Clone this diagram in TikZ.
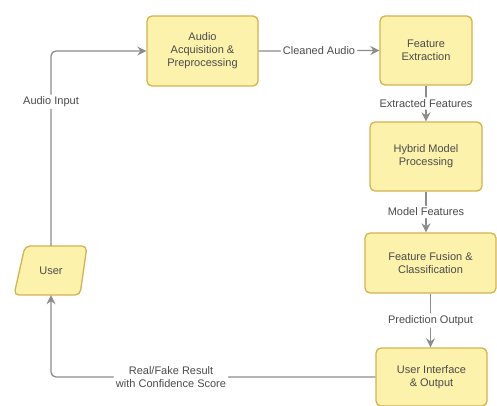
\documentclass[tikz,border=0pt]{standalone}
\usepackage{fontspec}
\setmainfont{Liberation Sans}
\usetikzlibrary{arrows.meta}
\definecolor{boxfill}{RGB}{252,242,172}
\definecolor{boxline}{RGB}{212,178,80}
\definecolor{txt}{RGB}{75,75,75}
\definecolor{wire}{RGB}{140,140,140}
\begin{document}
\begin{tikzpicture}[x=1pt,y=-1pt,
  every node/.style={text=txt,font=\fontsize{11}{13}\selectfont,align=center},
  stepbox/.style={draw=boxline,fill=boxfill,line width=1.3pt,rounded corners=5pt,inner sep=0pt},
  ioline/.style={draw=boxline,fill=boxfill,line width=1.3pt,rounded corners=5pt},
  flow/.style={draw=wire,line width=1.3pt,rounded corners=5pt,-{Stealth[length=9pt,width=9pt,inset=3pt]}},
  lbl/.style={fill=white,inner sep=2pt}]
\useasboundingbox (0,0) rectangle (497,406);

% process steps
\node[stepbox,minimum width=111pt,minimum height=70pt] (acq) at (202.5,51) {Audio\\Acquisition \&\\Preprocessing};
\node[stepbox,minimum width=92pt,minimum height=69pt] (fex) at (426,50.5) {Feature\\Extraction};
\node[stepbox,minimum width=112pt,minimum height=69pt] (hyb) at (426,156.5) {Hybrid Model\\Processing};
\node[stepbox,minimum width=131pt,minimum height=60pt] (fus) at (430.5,263) {Feature Fusion \&\\Classification};
\node[stepbox,minimum width=111pt,minimum height=58pt] (ui) at (431.5,377) {User Interface\\\& Output};

% user: parallelogram outline with its label on top
\path[ioline] (25,246) -- (87,246) -- (80,295) -- (14,295) -- cycle;
\node[minimum width=62pt,minimum height=49pt,inner sep=0pt] (user) at (51,270.5) {User};

% connectors
\draw[flow] (user.north) |- (acq.west) node[pos=0.37,lbl] {Audio Input};
\draw[flow] (acq.east) -- (fex.west) node[midway,lbl] {Cleaned Audio};
\draw[flow] (fex.south) -- (hyb.north) node[midway,lbl] {Extracted Features};
\draw[flow] (hyb.south) -- (hyb.south |- fus.north) node[midway,lbl] {Model Features};
\draw[flow] (fus.south) -- (fus.south |- ui.north) node[midway,lbl] {Prediction Output};
\draw[flow] (ui.west) -| (user.south) node[pos=0.315,lbl] {Real/Fake Result\\with Confidence Score};
\end{tikzpicture}
\end{document}
